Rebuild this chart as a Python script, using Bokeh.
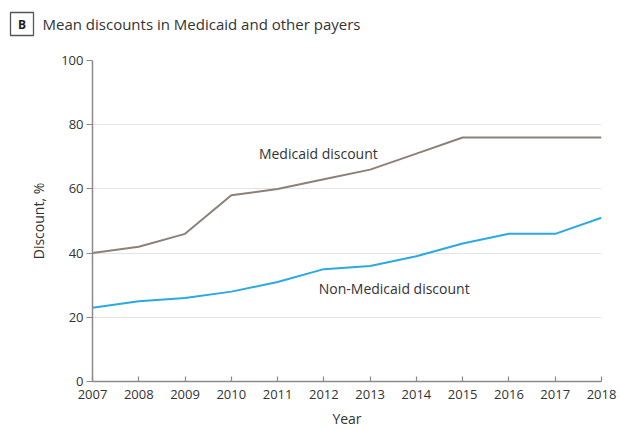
from bokeh.plotting import figure
from bokeh.models import Label, FixedTicker, Range1d
from bokeh.layouts import column, row
from bokeh.core.properties import value
from bokeh.embed import file_html
from bokeh.resources import INLINE

years = [2007, 2008, 2009, 2010, 2011, 2012, 2013, 2014, 2015, 2016, 2017, 2018]
medicaid = [40, 42, 46, 58, 60, 63, 66, 71, 76, 76, 76, 76]
non_medicaid = [23, 25, 26, 28, 31, 35, 36, 39, 43, 46, 46, 51]
y_ticks = [0, 20, 40, 60, 80, 100]
panel_letter = "B"
title_text = "Mean discounts in Medicaid and other payers"

FONT = "Open Sans"
TXT = "#333333"
W = 620
HEAD_H = 40
MAIN_H = 390

# ---- header (panel letter + title) ----
h = figure(width=W, height=HEAD_H, output_backend="svg", toolbar_location=None,
           x_range=Range1d(0, W), y_range=Range1d(HEAD_H, 0),
           min_border=0, min_border_left=0, min_border_right=0,
           min_border_top=0, min_border_bottom=0,
           x_axis_location=None, y_axis_location=None)
h.outline_line_color = None
h.grid.visible = False
h.quad(left=[10], right=[33], top=[12], bottom=[35], fill_color="white",
       line_color="#555555", line_width=1.3)
h.text(x=[21.5], y=[24], text=[panel_letter], text_align="center", text_baseline="middle",
       text_font=value(FONT), text_font_size="12px", text_font_style="bold",
       text_color="#222222")
h.text(x=[42], y=[23.5], text=[title_text], text_align="left", text_baseline="middle",
       text_font=value(FONT), text_font_size="15px", text_color=TXT)

# ---- main chart ----
p = figure(width=W, height=MAIN_H, output_backend="svg", toolbar_location=None,
           x_range=Range1d(2007, 2018), y_range=Range1d(0, 100),
           min_border_left=92, min_border_right=19, min_border_top=20, min_border_bottom=49)
p.outline_line_color = None

p.line(years, medicaid, line_color="#8b8178", line_width=2)
p.line(years, non_medicaid, line_color="#2ba9e1", line_width=2)

p.xaxis.ticker = FixedTicker(ticks=years)
p.yaxis.ticker = FixedTicker(ticks=y_ticks)
for ax in (p.xaxis, p.yaxis):
    ax.axis_line_color = "#8a8a8a"
    ax.axis_line_width = 1.5
    ax.major_tick_line_color = "#8a8a8a"
    ax.major_tick_line_width = 1.2
    ax.minor_tick_line_color = None
    ax.major_label_text_font = FONT
    ax.major_label_text_font_size = "13px"
    ax.major_label_text_color = TXT
    ax.axis_label_text_font = FONT
    ax.axis_label_text_font_size = "14px"
    ax.axis_label_text_font_style = "normal"
    ax.axis_label_text_color = TXT

p.xaxis.major_tick_in = 5
p.xaxis.major_tick_out = 0
p.xaxis.major_label_standoff = 8
p.xaxis.axis_label = "Year"
p.xaxis.axis_label_standoff = 7

p.yaxis.major_tick_in = 0
p.yaxis.major_tick_out = 6
p.yaxis.major_label_standoff = 3
p.yaxis.axis_label = "Discount, %"
p.yaxis.axis_label_standoff = 10

p.xgrid.grid_line_color = None
p.ygrid.grid_line_color = "#e4e4e4"
p.ygrid.grid_line_width = 1

p.add_layout(Label(x=2011.88, y=71, text="Medicaid discount", text_align="center",
                   text_baseline="middle", text_font=FONT, text_font_size="14px",
                   text_color=TXT))
p.add_layout(Label(x=2013.52, y=29, text="Non-Medicaid discount", text_align="center",
                   text_baseline="middle", text_font=FONT, text_font_size="14px",
                   text_color=TXT))

layout = column(row(h), p, spacing=0)
open("out.html", "w").write(file_html(layout, INLINE))
